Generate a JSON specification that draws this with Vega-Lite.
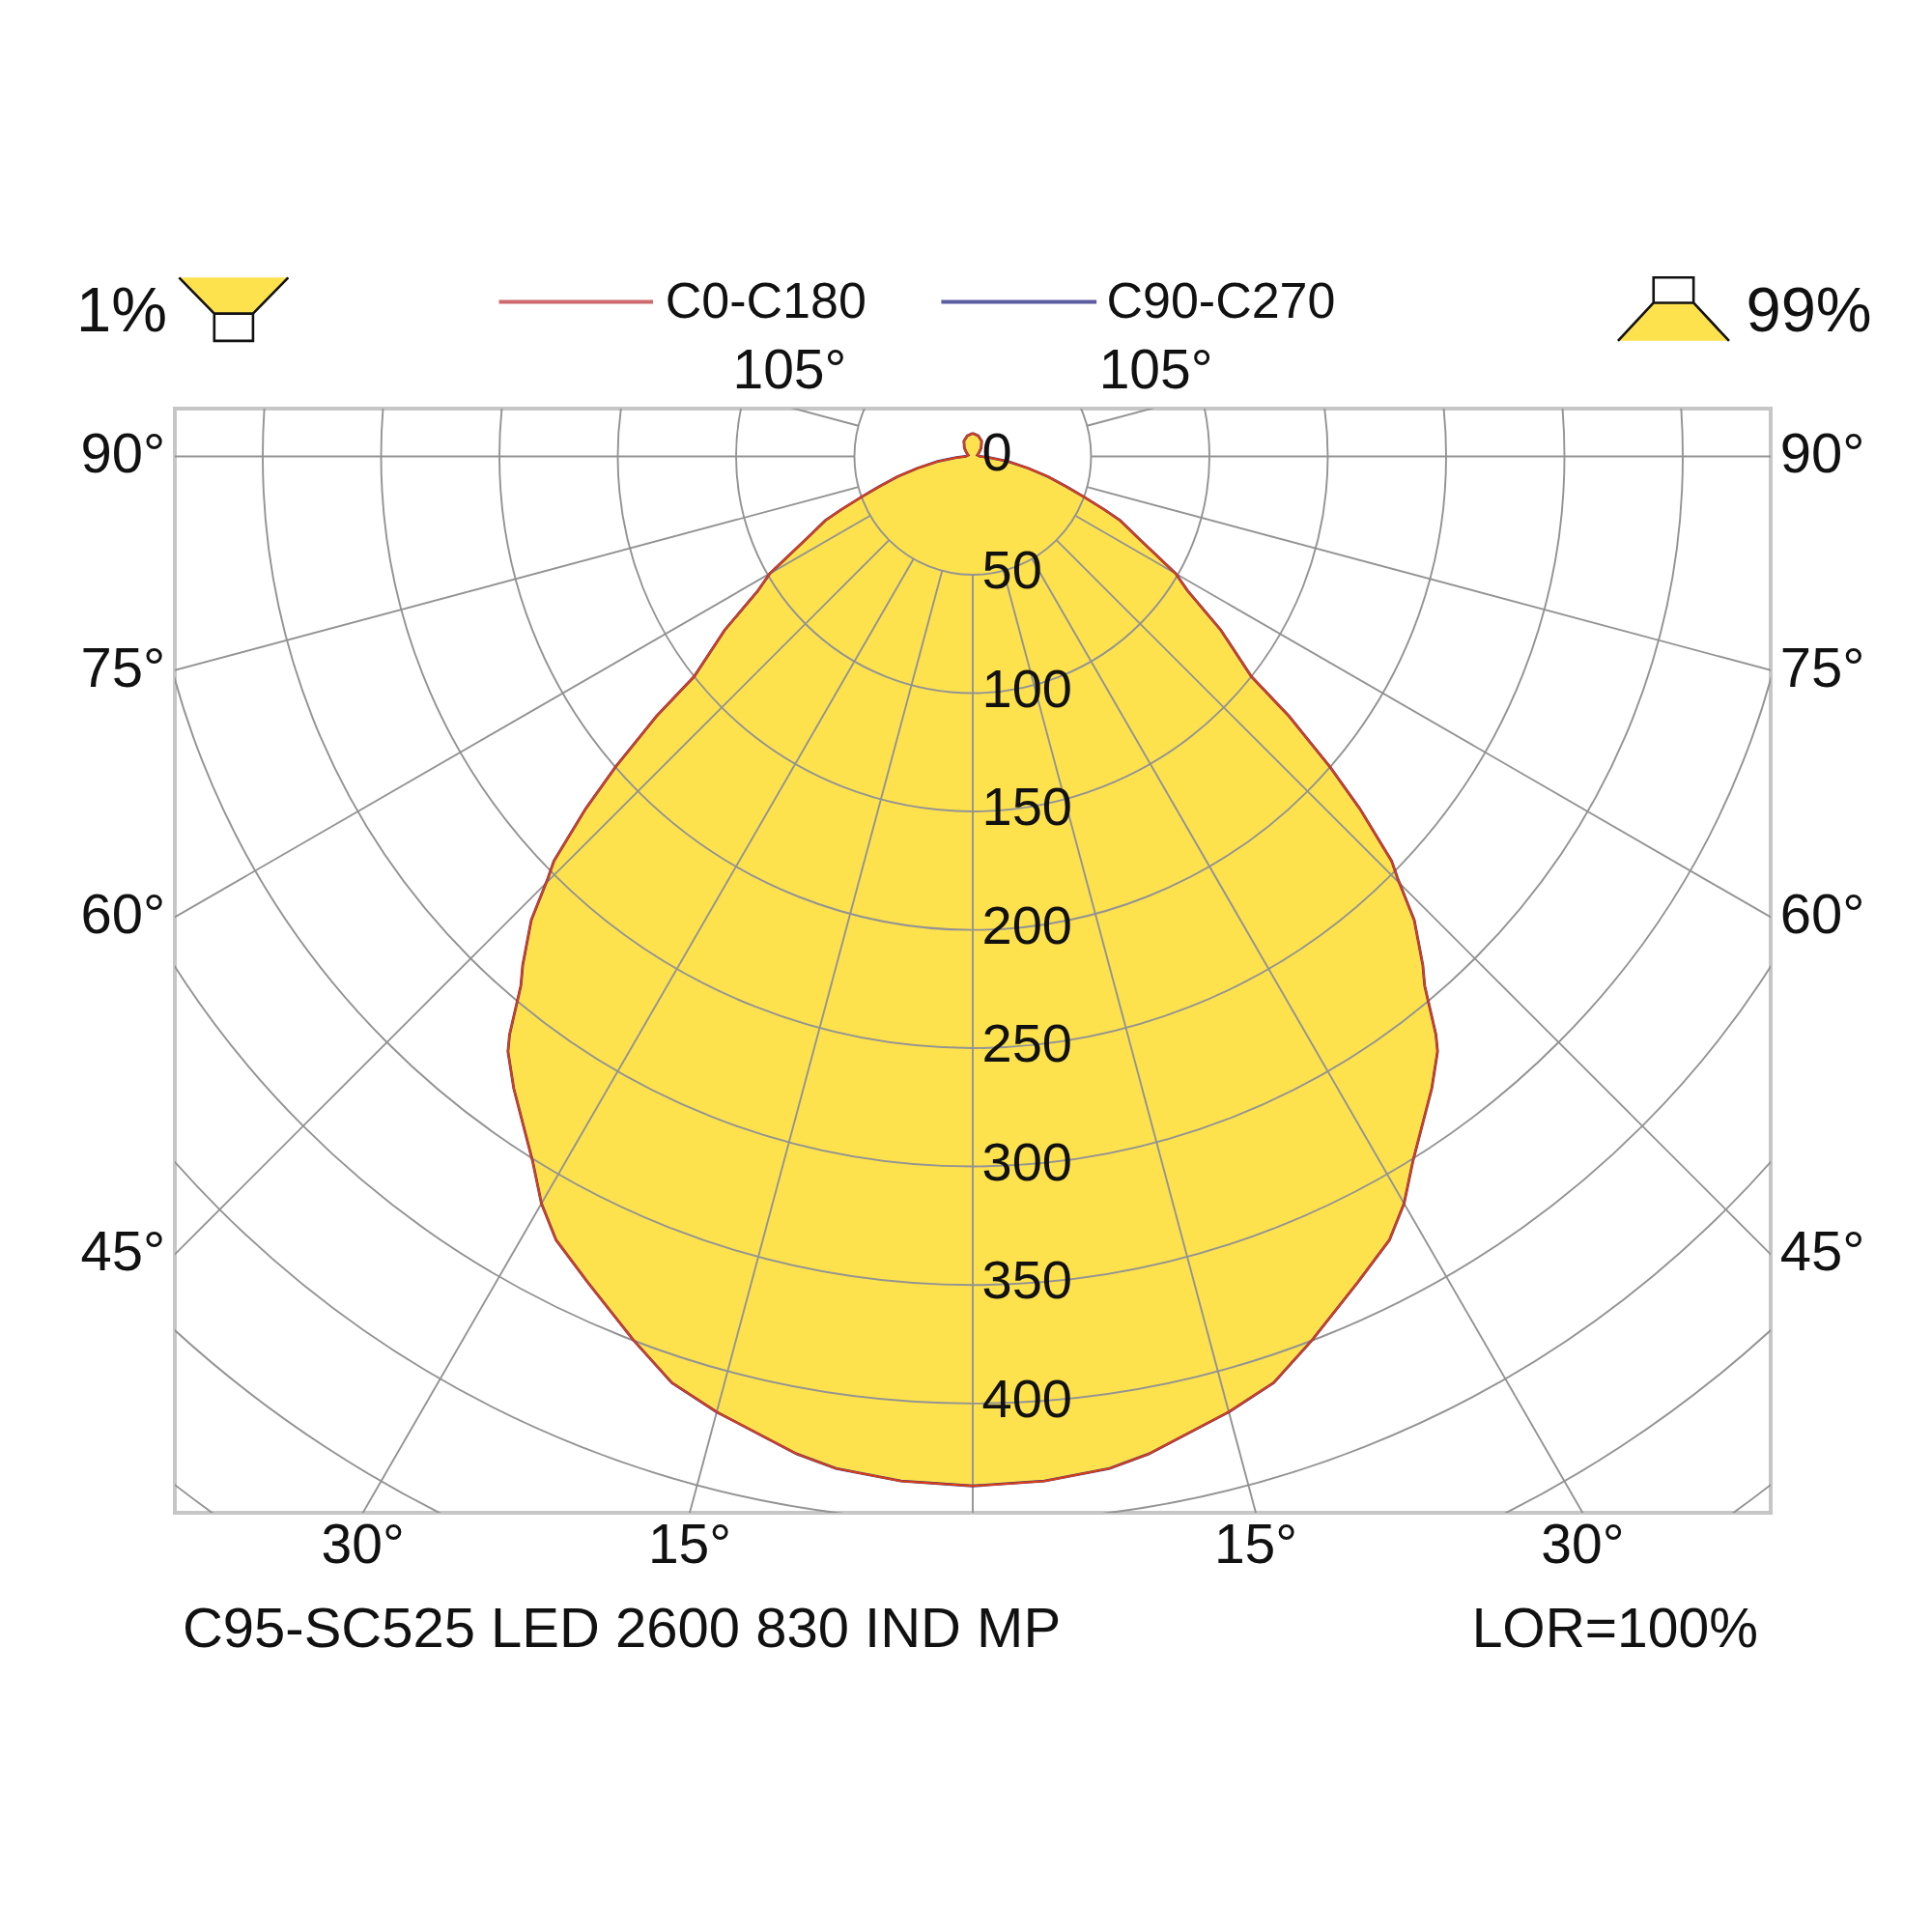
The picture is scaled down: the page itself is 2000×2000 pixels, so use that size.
{
  "$schema": "https://vega.github.io/schema/vega-lite/v6.json",
  "width": 1652,
  "height": 1143,
  "autosize": {"type": "none"},
  "padding": {"left": 181, "top": 423, "right": 167, "bottom": 434},
  "background": "white",
  "config": {
    "view": {"stroke": "#c6c6c6", "strokeWidth": 4},
    "text": {"font": "Liberation Sans", "color": "#111111"}
  },
  "datasets": {
    "curve": [
      {"a": -180, "i": 9.8}, {"a": -165, "i": 9}, {"a": -150, "i": 7.5}, {"a": -135, "i": 5},
      {"a": -120, "i": 3}, {"a": -105, "i": 2}, {"a": -90, "i": 3}, {"a": -86, "i": 7},
      {"a": -82, "i": 15}, {"a": -78, "i": 24}, {"a": -75, "i": 33}, {"a": -72, "i": 42},
      {"a": -70, "i": 50}, {"a": -68, "i": 60}, {"a": -66.5, "i": 68}, {"a": -64, "i": 77},
      {"a": -60, "i": 99}, {"a": -58, "i": 107}, {"a": -55, "i": 128}, {"a": -51.7, "i": 150},
      {"a": -50.6, "i": 173}, {"a": -49, "i": 200}, {"a": -47.7, "i": 221}, {"a": -46, "i": 246},
      {"a": -45.2, "i": 253}, {"a": -43.6, "i": 270.5}, {"a": -41.5, "i": 287}, {"a": -40.5, "i": 294},
      {"a": -38.7, "i": 313}, {"a": -38, "i": 319}, {"a": -36, "i": 330}, {"a": -32, "i": 351},
      {"a": -30, "i": 364.5}, {"a": -28, "i": 375}, {"a": -25, "i": 385}, {"a": -21, "i": 400},
      {"a": -18, "i": 411.5}, {"a": -15, "i": 418}, {"a": -10, "i": 428}, {"a": -7.7, "i": 431.5},
      {"a": -4, "i": 434}, {"a": 0, "i": 435},
      {"a": 4, "i": 434}, {"a": 7.7, "i": 431.5}, {"a": 10, "i": 428}, {"a": 15, "i": 418},
      {"a": 18, "i": 411.5}, {"a": 21, "i": 400}, {"a": 25, "i": 385}, {"a": 28, "i": 375},
      {"a": 30, "i": 364.5}, {"a": 32, "i": 351}, {"a": 36, "i": 330}, {"a": 38, "i": 319},
      {"a": 38.7, "i": 313}, {"a": 40.5, "i": 294}, {"a": 41.5, "i": 287}, {"a": 43.6, "i": 270.5},
      {"a": 45.2, "i": 253}, {"a": 46, "i": 246}, {"a": 47.7, "i": 221}, {"a": 49, "i": 200},
      {"a": 50.6, "i": 173}, {"a": 51.7, "i": 150}, {"a": 55, "i": 128}, {"a": 58, "i": 107},
      {"a": 60, "i": 99}, {"a": 64, "i": 77}, {"a": 66.5, "i": 68}, {"a": 68, "i": 60},
      {"a": 70, "i": 50}, {"a": 72, "i": 42}, {"a": 75, "i": 33}, {"a": 78, "i": 24},
      {"a": 82, "i": 15}, {"a": 86, "i": 7}, {"a": 90, "i": 3}, {"a": 105, "i": 2},
      {"a": 120, "i": 3}, {"a": 135, "i": 5}, {"a": 150, "i": 7.5}, {"a": 165, "i": 9},
      {"a": 180, "i": 9.8}
    ]
  },
  "layer": [
    {
      "data": {"name": "curve"},
      "transform": [
        {"calculate": "-datum.i * sin(datum.a * PI / 180)", "as": "x"},
        {"calculate": "-datum.i * cos(datum.a * PI / 180)", "as": "y"}
      ],
      "mark": {"type": "line", "fill": "#fde24e", "strokeOpacity": 0},
      "encoding": {
        "x": {"field": "x", "type": "quantitative", "axis": null,
              "scale": {"domain": [-337.143, 337.143], "nice": false, "zero": false}},
        "y": {"field": "y", "type": "quantitative", "axis": null,
              "scale": {"domain": [-446.327, 20.2], "nice": false, "zero": false}},
        "order": {"field": "a", "type": "quantitative"}
      }
    },
    {
      "data": {"values": [
        {"r": 50}, {"r": 100}, {"r": 150}, {"r": 200}, {"r": 250}, {"r": 300},
        {"r": 350}, {"r": 400}, {"r": 450}, {"r": 500}, {"r": 550}
      ]},
      "transform": [
        {"calculate": "0", "as": "x"},
        {"calculate": "0", "as": "y"}
      ],
      "mark": {"type": "point", "shape": "circle", "filled": false, "opacity": 1,
               "stroke": "#939393", "strokeWidth": 1.9, "clip": true},
      "encoding": {
        "x": {"field": "x", "type": "quantitative", "axis": null,
              "scale": {"domain": [-337.143, 337.143], "nice": false, "zero": false}},
        "y": {"field": "y", "type": "quantitative", "axis": null,
              "scale": {"domain": [-446.327, 20.2], "nice": false, "zero": false}},
        "size": {"field": "r", "type": "quantitative", "legend": null,
                 "scale": {"type": "pow", "exponent": 2, "domain": [0, 550], "range": [0, 7263025], "zero": true}}
      }
    },
    {
      "data": {"values": [
        {"a": -105}, {"a": -90}, {"a": -75}, {"a": -60}, {"a": -45}, {"a": -30}, {"a": -15},
        {"a": 0}, {"a": 15}, {"a": 30}, {"a": 45}, {"a": 60}, {"a": 75}, {"a": 90}, {"a": 105}
      ]},
      "transform": [
        {"calculate": "-50 * sin(datum.a * PI / 180)", "as": "x"},
        {"calculate": "-50 * cos(datum.a * PI / 180)", "as": "y"},
        {"calculate": "-900 * sin(datum.a * PI / 180)", "as": "x2"},
        {"calculate": "-900 * cos(datum.a * PI / 180)", "as": "y2"}
      ],
      "mark": {"type": "rule", "stroke": "#939393", "strokeWidth": 1.9, "clip": true},
      "encoding": {
        "x": {"field": "x", "type": "quantitative", "axis": null,
              "scale": {"domain": [-337.143, 337.143], "nice": false, "zero": false}},
        "y": {"field": "y", "type": "quantitative", "axis": null,
              "scale": {"domain": [-446.327, 20.2], "nice": false, "zero": false}},
        "x2": {"field": "x2"},
        "y2": {"field": "y2"}
      }
    },
    {
      "data": {"name": "curve"},
      "transform": [
        {"calculate": "-datum.i * sin(datum.a * PI / 180)", "as": "x"},
        {"calculate": "-datum.i * cos(datum.a * PI / 180)", "as": "y"}
      ],
      "mark": {"type": "line", "stroke": "#3c3c8c", "strokeWidth": 2.8},
      "encoding": {
        "x": {"field": "x", "type": "quantitative", "axis": null,
              "scale": {"domain": [-337.143, 337.143], "nice": false, "zero": false}},
        "y": {"field": "y", "type": "quantitative", "axis": null,
              "scale": {"domain": [-446.327, 20.2], "nice": false, "zero": false}},
        "order": {"field": "a", "type": "quantitative"}
      }
    },
    {
      "data": {"name": "curve"},
      "transform": [
        {"calculate": "-datum.i * sin(datum.a * PI / 180)", "as": "x"},
        {"calculate": "-datum.i * cos(datum.a * PI / 180)", "as": "y"}
      ],
      "mark": {"type": "line", "stroke": "#e03c14", "strokeWidth": 2},
      "encoding": {
        "x": {"field": "x", "type": "quantitative", "axis": null,
              "scale": {"domain": [-337.143, 337.143], "nice": false, "zero": false}},
        "y": {"field": "y", "type": "quantitative", "axis": null,
              "scale": {"domain": [-446.327, 20.2], "nice": false, "zero": false}},
        "order": {"field": "a", "type": "quantitative"}
      }
    },
    {
      "data": {"values": [
        {"r": 0}, {"r": 50}, {"r": 100}, {"r": 150}, {"r": 200},
        {"r": 250}, {"r": 300}, {"r": 350}, {"r": 400}
      ]},
      "transform": [
        {"calculate": "3.9", "as": "x"},
        {"calculate": "-datum.r", "as": "y"}
      ],
      "mark": {"type": "text", "align": "left", "baseline": "middle", "fontSize": 56, "dy": -2.5},
      "encoding": {
        "x": {"field": "x", "type": "quantitative", "axis": null,
              "scale": {"domain": [-337.143, 337.143], "nice": false, "zero": false}},
        "y": {"field": "y", "type": "quantitative", "axis": null,
              "scale": {"domain": [-446.327, 20.2], "nice": false, "zero": false}},
        "text": {"field": "r", "type": "nominal"}
      }
    },
    {
      "data": {"values": [
        {"t": "90°", "a": 90, "s": -1}, {"t": "75°", "a": 75, "s": -1},
        {"t": "60°", "a": 60, "s": -1}, {"t": "45°", "a": 45, "s": -1},
        {"t": "90°", "a": 90, "s": 1}, {"t": "75°", "a": 75, "s": 1},
        {"t": "60°", "a": 60, "s": 1}, {"t": "45°", "a": 45, "s": 1}
      ]},
      "transform": [
        {"calculate": "datum.s * 359", "as": "x"},
        {"calculate": "-337.143 / tan(datum.a * PI / 180)", "as": "y"}
      ],
      "mark": {"type": "text", "align": "center", "baseline": "middle", "fontSize": 58},
      "encoding": {
        "x": {"field": "x", "type": "quantitative", "axis": null,
              "scale": {"domain": [-337.143, 337.143], "nice": false, "zero": false}},
        "y": {"field": "y", "type": "quantitative", "axis": null,
              "scale": {"domain": [-446.327, 20.2], "nice": false, "zero": false}},
        "text": {"field": "t", "type": "nominal"}
      }
    },
    {
      "data": {"values": [
        {"t": "30°", "a": 30, "s": -1}, {"t": "15°", "a": 15, "s": -1},
        {"t": "15°", "a": 15, "s": 1}, {"t": "30°", "a": 30, "s": 1}
      ]},
      "transform": [
        {"calculate": "datum.s * 446.327 * tan(datum.a * PI / 180)", "as": "x"},
        {"calculate": "-460.7", "as": "y"}
      ],
      "mark": {"type": "text", "align": "center", "baseline": "middle", "fontSize": 57},
      "encoding": {
        "x": {"field": "x", "type": "quantitative", "axis": null,
              "scale": {"domain": [-337.143, 337.143], "nice": false, "zero": false}},
        "y": {"field": "y", "type": "quantitative", "axis": null,
              "scale": {"domain": [-446.327, 20.2], "nice": false, "zero": false}},
        "text": {"field": "t", "type": "nominal"}
      }
    },
    {
      "data": {"values": [
        {"t": "105°", "a": 105, "s": -1}, {"t": "105°", "a": 105, "s": 1}
      ]},
      "transform": [
        {"calculate": "datum.s * (20.2 * tan((180 - datum.a) * PI / 180) + 2)", "as": "x"},
        {"calculate": "35.9", "as": "y"}
      ],
      "mark": {"type": "text", "align": "center", "baseline": "middle", "fontSize": 57},
      "encoding": {
        "x": {"field": "x", "type": "quantitative", "axis": null,
              "scale": {"domain": [-337.143, 337.143], "nice": false, "zero": false}},
        "y": {"field": "y", "type": "quantitative", "axis": null,
              "scale": {"domain": [-446.327, 20.2], "nice": false, "zero": false}},
        "text": {"field": "t", "type": "nominal"}
      }
    },
    {
      "data": {"values": [
        {"c": "C0-C180", "x": -200.2, "x2": -135.1, "tx": -129.9},
        {"c": "C90-C270", "x": -13.3, "x2": 52.3, "tx": 56.5}
      ]},
      "transform": [{"calculate": "65.3", "as": "y"}],
      "layer": [
        {
          "mark": {"type": "rule", "strokeWidth": 4},
          "encoding": {
            "x": {"field": "x", "type": "quantitative", "axis": null,
                  "scale": {"domain": [-337.143, 337.143], "nice": false, "zero": false}},
            "y": {"field": "y", "type": "quantitative", "axis": null,
                  "scale": {"domain": [-446.327, 20.2], "nice": false, "zero": false}},
            "x2": {"field": "x2"},
            "color": {"field": "c", "type": "nominal", "legend": null,
                      "scale": {"domain": ["C0-C180", "C90-C270"], "range": ["#cc6a6e", "#5c5ca0"]}}
          }
        },
        {
          "mark": {"type": "text", "align": "left", "baseline": "middle", "fontSize": 52},
          "encoding": {
            "x": {"field": "tx", "type": "quantitative", "axis": null,
                  "scale": {"domain": [-337.143, 337.143], "nice": false, "zero": false}},
            "y": {"field": "y", "type": "quantitative", "axis": null,
                  "scale": {"domain": [-446.327, 20.2], "nice": false, "zero": false}},
            "text": {"field": "c", "type": "nominal"}
          }
        }
      ]
    },
    {
      "data": {"values": [
        {"t": "1%", "x": -359.6, "y": 61.1},
        {"t": "99%", "x": 353.3, "y": 61.1}
      ]},
      "mark": {"type": "text", "align": "center", "baseline": "middle", "fontSize": 65},
      "encoding": {
        "x": {"field": "x", "type": "quantitative", "axis": null,
              "scale": {"domain": [-337.143, 337.143], "nice": false, "zero": false}},
        "y": {"field": "y", "type": "quantitative", "axis": null,
              "scale": {"domain": [-446.327, 20.2], "nice": false, "zero": false}},
        "text": {"field": "t", "type": "nominal"}
      }
    },
    {
      "data": {"values": [
        {"t": "C95-SC525 LED 2600 830 IND MP", "x": -333.9, "y": -496.3}
      ]},
      "mark": {"type": "text", "align": "left", "baseline": "middle", "fontSize": 58},
      "encoding": {
        "x": {"field": "x", "type": "quantitative", "axis": null,
              "scale": {"domain": [-337.143, 337.143], "nice": false, "zero": false}},
        "y": {"field": "y", "type": "quantitative", "axis": null,
              "scale": {"domain": [-446.327, 20.2], "nice": false, "zero": false}},
        "text": {"field": "t", "type": "nominal"}
      }
    },
    {
      "data": {"values": [
        {"t": "LOR=100%", "x": 331.8, "y": -496.3}
      ]},
      "mark": {"type": "text", "align": "right", "baseline": "middle", "fontSize": 57},
      "encoding": {
        "x": {"field": "x", "type": "quantitative", "axis": null,
              "scale": {"domain": [-337.143, 337.143], "nice": false, "zero": false}},
        "y": {"field": "y", "type": "quantitative", "axis": null,
              "scale": {"domain": [-446.327, 20.2], "nice": false, "zero": false}},
        "text": {"field": "t", "type": "nominal"}
      }
    },
    {
      "data": {"values": [{"icon": "down", "x": -312.3, "y": 62.2}]},
      "layer": [
        {
          "mark": {"type": "point", "filled": true, "opacity": 1, "fill": "#fde24e", "strokeWidth": 0, "size": 12769,
                   "shape": "M-1,-0.58L1,-0.58L0.355,0.08L-0.355,0.08Z"},
          "encoding": {
            "x": {"field": "x", "type": "quantitative", "axis": null,
                  "scale": {"domain": [-337.143, 337.143], "nice": false, "zero": false}},
            "y": {"field": "y", "type": "quantitative", "axis": null,
                  "scale": {"domain": [-446.327, 20.2], "nice": false, "zero": false}}
          }
        },
        {
          "mark": {"type": "point", "filled": false, "opacity": 1, "stroke": "#111111", "strokeWidth": 2.6, "size": 12769,
                   "shape": "M-1,-0.58L-0.355,0.08M1,-0.58L0.355,0.08M-0.355,0.08L0.355,0.08L0.355,0.58L-0.355,0.58Z"},
          "encoding": {
            "x": {"field": "x", "type": "quantitative", "axis": null,
                  "scale": {"domain": [-337.143, 337.143], "nice": false, "zero": false}},
            "y": {"field": "y", "type": "quantitative", "axis": null,
                  "scale": {"domain": [-446.327, 20.2], "nice": false, "zero": false}}
          }
        }
      ]
    },
    {
      "data": {"values": [{"icon": "up", "x": 296.1, "y": 62.2}]},
      "layer": [
        {
          "mark": {"type": "point", "filled": true, "opacity": 1, "fill": "#fde24e", "strokeWidth": 0, "size": 13225,
                   "shape": "M-0.36,-0.115L0.36,-0.115L1,0.57L-1,0.57Z"},
          "encoding": {
            "x": {"field": "x", "type": "quantitative", "axis": null,
                  "scale": {"domain": [-337.143, 337.143], "nice": false, "zero": false}},
            "y": {"field": "y", "type": "quantitative", "axis": null,
                  "scale": {"domain": [-446.327, 20.2], "nice": false, "zero": false}}
          }
        },
        {
          "mark": {"type": "point", "filled": false, "opacity": 1, "stroke": "#111111", "strokeWidth": 2.6, "size": 13225,
                   "shape": "M-0.36,-0.57L0.36,-0.57L0.36,-0.115L-0.36,-0.115ZM-0.36,-0.115L-1,0.57M0.36,-0.115L1,0.57"},
          "encoding": {
            "x": {"field": "x", "type": "quantitative", "axis": null,
                  "scale": {"domain": [-337.143, 337.143], "nice": false, "zero": false}},
            "y": {"field": "y", "type": "quantitative", "axis": null,
                  "scale": {"domain": [-446.327, 20.2], "nice": false, "zero": false}}
          }
        }
      ]
    }
  ]
}
